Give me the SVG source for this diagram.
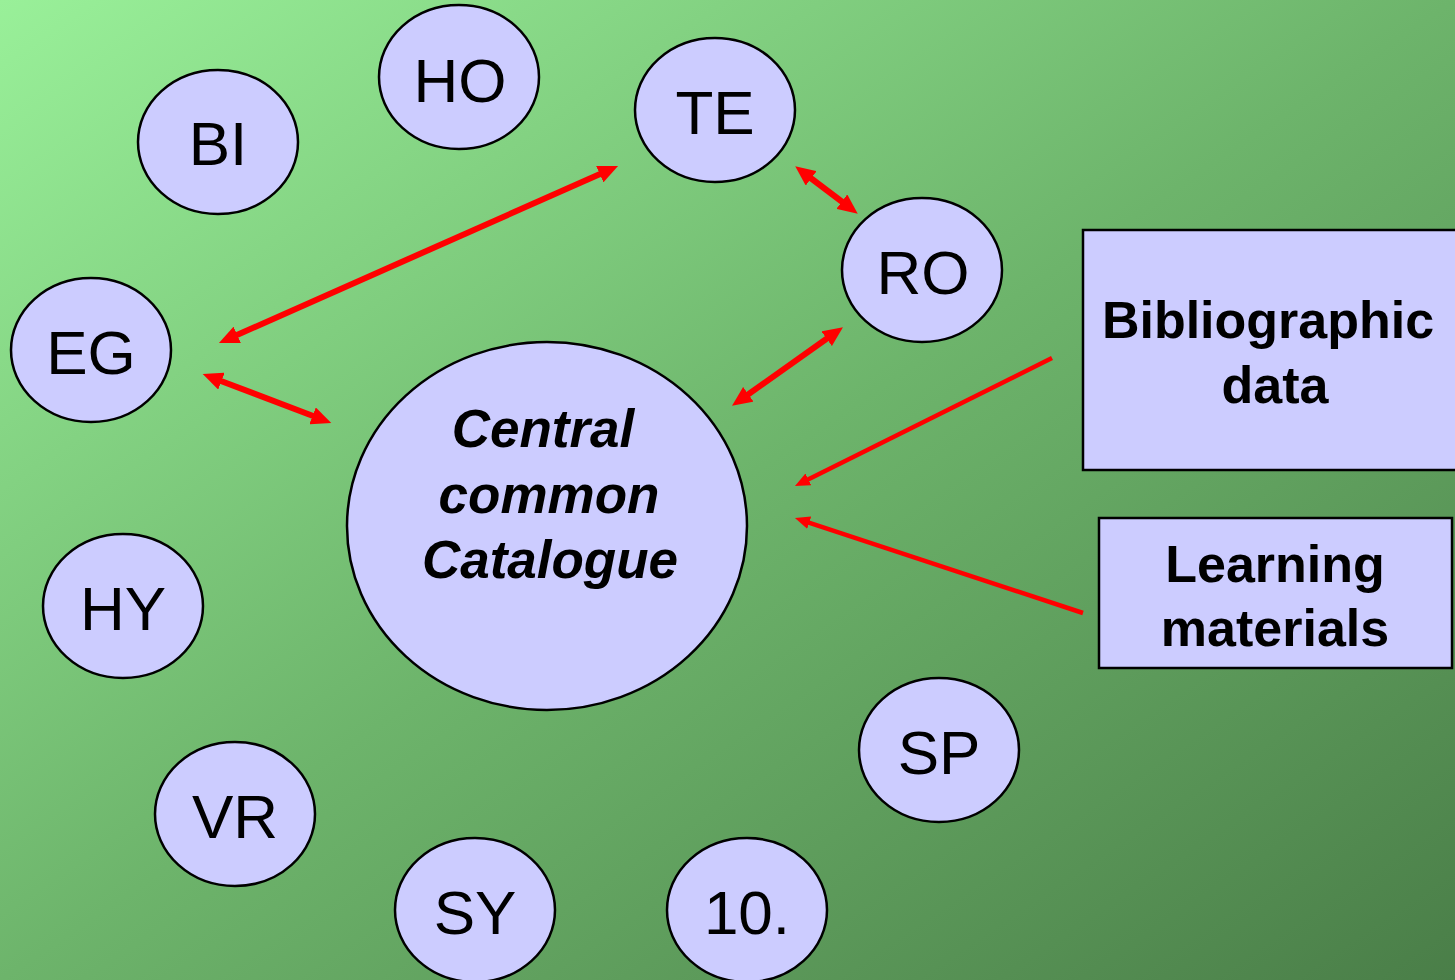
<svg xmlns="http://www.w3.org/2000/svg" width="1455" height="980" viewBox="0 0 1455 980">
<defs>
<linearGradient id="bg" x1="0" y1="0" x2="1" y2="1">
<stop offset="0" stop-color="#99F099"/>
<stop offset="0.5" stop-color="#6DB46B"/>
<stop offset="1" stop-color="#4A7E48"/>
</linearGradient>
<marker id="dbl" markerUnits="userSpaceOnUse" markerWidth="22" markerHeight="18" refX="9" refY="9" orient="auto-start-reverse">
<path d="M0,0 L20,9 L0,18 z" fill="#FF0000"/>
</marker>
<marker id="sgl" markerUnits="userSpaceOnUse" markerWidth="16" markerHeight="14" refX="6" refY="6.5" orient="auto">
<path d="M0,0 L15,6.5 L0,13 z" fill="#FF0000"/>
</marker>
<style>
.node{fill:#CCCCFF;stroke:#000;stroke-width:2.5}
.lbl{font-family:"Liberation Sans",Arial,sans-serif;font-size:62px;fill:#000;text-anchor:middle}
.big{font-family:"Liberation Sans",Arial,sans-serif;font-size:52px;font-weight:bold;fill:#000;text-anchor:middle}
.bi{font-style:italic;font-size:53px}
.dbl{stroke:#FF0000;stroke-width:6;fill:none;marker-start:url(#dbl);marker-end:url(#dbl)}
.sgl{stroke:#FF0000;stroke-width:4.5;fill:none;marker-end:url(#sgl)}
</style>
</defs>
<rect x="0" y="0" width="1455" height="980" fill="url(#bg)"/>
<g id="connectors">
<line class="dbl" x1="229" y1="338.5" x2="608" y2="170.5"/>
<line class="dbl" x1="213" y1="378" x2="321" y2="419"/>
<line class="dbl" x1="804" y1="173" x2="849" y2="207"/>
<line class="dbl" x1="741" y1="399.5" x2="834" y2="333.5"/>
<line class="sgl" x1="1052" y1="358" x2="803" y2="482"/>
<line class="sgl" x1="1083" y1="613" x2="803.5" y2="520.8"/>
</g>
<g id="node-central">
<ellipse class="node" cx="547" cy="526" rx="200" ry="184"/>
<text class="big bi" x="543" y="447">Central</text>
<text class="big bi" x="549" y="513">common</text>
<text class="big bi" x="550" y="578">Catalogue</text>
</g>
<g id="node-BI"><ellipse class="node" cx="218" cy="142" rx="80" ry="72"/><text class="lbl" x="218" y="165">BI</text></g>
<g id="node-HO"><ellipse class="node" cx="459" cy="77" rx="80" ry="72"/><text class="lbl" x="460" y="102">HO</text></g>
<g id="node-TE"><ellipse class="node" cx="715" cy="110" rx="80" ry="72"/><text class="lbl" x="715" y="134">TE</text></g>
<g id="node-RO"><ellipse class="node" cx="922" cy="270" rx="80" ry="72"/><text class="lbl" x="923" y="294">RO</text></g>
<g id="node-EG"><ellipse class="node" cx="91" cy="350" rx="80" ry="72"/><text class="lbl" x="91" y="374">EG</text></g>
<g id="node-HY"><ellipse class="node" cx="123" cy="606" rx="80" ry="72"/><text class="lbl" x="123" y="630">HY</text></g>
<g id="node-VR"><ellipse class="node" cx="235" cy="814" rx="80" ry="72"/><text class="lbl" x="235" y="838">VR</text></g>
<g id="node-SY"><ellipse class="node" cx="475" cy="910" rx="80" ry="72"/><text class="lbl" x="475" y="934">SY</text></g>
<g id="node-10"><ellipse class="node" cx="747" cy="910" rx="80" ry="72"/><text class="lbl" x="747" y="934">10.</text></g>
<g id="node-SP"><ellipse class="node" cx="939" cy="750" rx="80" ry="72"/><text class="lbl" x="939" y="774">SP</text></g>
<g id="node-bib">
<rect class="node" x="1083" y="230" width="390" height="240"/>
<text class="big" x="1268" y="338">Bibliographic</text>
<text class="big" x="1275" y="403">data</text>
</g>
<g id="node-learn">
<rect class="node" x="1099" y="518" width="353" height="150"/>
<text class="big" x="1275" y="582">Learning</text>
<text class="big" x="1275" y="646">materials</text>
</g>
</svg>
